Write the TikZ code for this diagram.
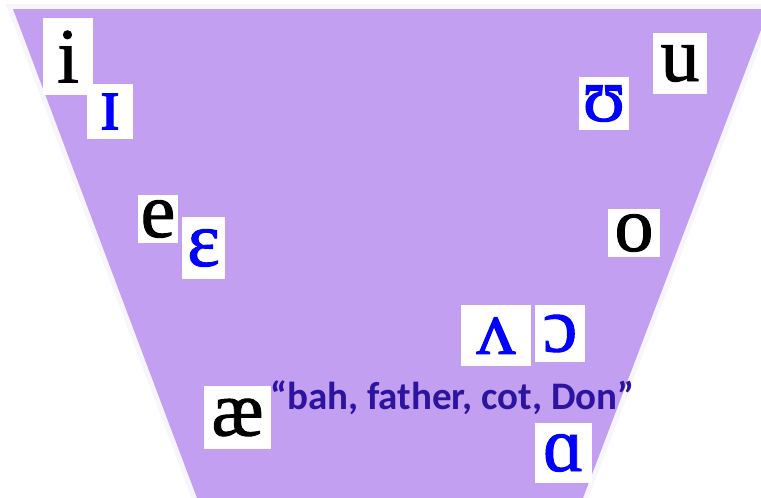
\documentclass[tikz,border=0pt]{standalone}
\usepackage{fontspec}
\setmainfont[FakeBold = 1.2]{Liberation Serif}
\newfontfamily\quotefont{Carlito}
\usetikzlibrary{positioning}
\definecolor{lavender}{RGB}{194,159,240}
\definecolor{halo}{RGB}{247,245,254}
\definecolor{quoteblue}{RGB}{44,20,160}
\tikzstyle{phone} = [rectangle, fill = white, inner sep = 0, text = black,
  font = \fontsize{78}{80}\selectfont, text centered]
\tikzstyle{lax} = [phone, text = blue]

\begin{document}
\begin{tikzpicture}[x = 1pt, y = -1pt]
  \useasboundingbox (0, 0) rectangle (761, 498);
  \clip (0, 0) rectangle (761, 498);
  % vowel space
  \draw [halo, line width = 10] (13, 9) -- (769, 9) -- (583, 498) -- (197, 498) -- cycle;
  \fill [lavender] (13, 9) -- (769, 9) -- (583, 498) -- (197, 498) -- cycle;

  % front
  \node [phone, minimum width = 50, minimum height = 77] (v-i) at (68, 56.5) {i};
  \node [lax, minimum width = 46, minimum height = 55] (v-ih) at (110, 111.5) {ɪ};
  \node [phone, minimum width = 40, minimum height = 48] (v-e) at (158, 219) {e};
  \node [lax, minimum width = 43, minimum height = 62] (v-eh) at (203.5, 248) {ɛ};
  \node [phone, minimum width = 67, minimum height = 63] (v-ae) at (237.5, 417.5) {æ};

  % back
  \node [phone, minimum width = 54, minimum height = 61] (v-u) at (680, 63.5) {u};
  \node [lax, minimum width = 50, minimum height = 53] (v-uh) at (604, 103.5) {ʊ};
  \node [phone, minimum width = 52, minimum height = 48] (v-o) at (634, 233) {o};
  \node [lax, minimum width = 70, minimum height = 61] (v-uhh) at (496, 335.5) {ʌ};
  \node [lax, minimum width = 50, minimum height = 57] (v-aw) at (560, 333.5) {ɔ};
  \node [lax, minimum width = 57, minimum height = 60] (v-a) at (563.5, 453) {ɑ};

  \node [anchor = base west, inner sep = 0, text = quoteblue,
    font = \quotefont\bfseries\fontsize{39}{42}\selectfont] (note-a)
    at (270, 409) {“bah, father, cot, Don”};
\end{tikzpicture}
\end{document}
